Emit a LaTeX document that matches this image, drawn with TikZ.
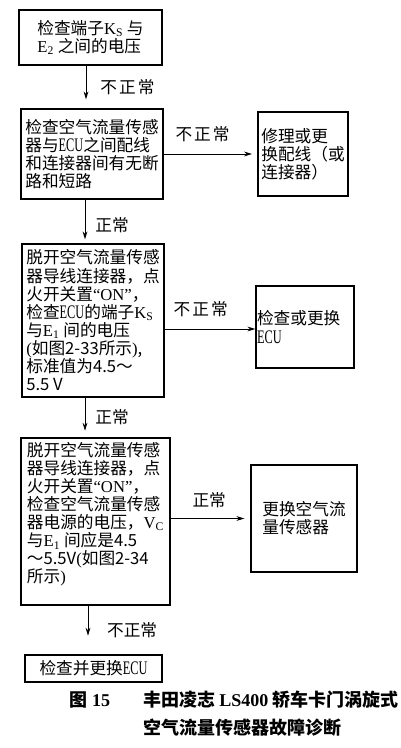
\documentclass[tikz,border=0pt]{standalone}
\usepackage{fontspec}
\setmainfont{Liberation Serif}
\newfontfamily\cjk{Noto Sans CJK SC}
\usetikzlibrary{arrows.meta}

\newcommand\ecu{{\rmfamily\scalebox{0.74}[1.15]{ECU}}}

\begin{document}
\begin{tikzpicture}[
            x=0.75pt, y=-0.75pt,
            box/.style={draw, line width=0.9pt, align=left, inner sep=1pt,
                        font=\cjk\fontsize{12.5pt}{13.6pt}\selectfont},
            arr/.style={-{Stealth[length=6pt, width=3.6pt]}, line width=0.7pt},
            lbl/.style={inner sep=0pt, font=\cjk\fontsize{12.5pt}{14pt}\selectfont},
            captxt/.style={inner sep=0pt, align=left, font=\cjk\bfseries\fontsize{13.5pt}{16pt}\selectfont}
        ]
        \useasboundingbox (0,0) rectangle (400,748);

        % Check steps (left column)
        \node[box, minimum width=107.25pt, minimum height=41.25pt] (chk1) at (90.5,37.5)
            {检查端子$\mathrm{K_S}$ 与\\$\mathrm{E_2}$ 之间的电压};
        \node[box, minimum width=106.5pt, minimum height=67.5pt] (chk2) at (92,154)
            {检查空气流量传感\\器与\ecu 之间配线\\和连接器间有无断\\路和短路};
        \node[box, minimum width=106.5pt, minimum height=114.75pt] (chk3) at (93,320.5)
            {脱开空气流量传感\\器导线连接器，点\\火开关置{\rmfamily “ON”}，\\检查\ecu 的端子$\mathrm{K_S}$\\与$\mathrm{E_1}$ 间的电压\\{\rmfamily (}如图2-33所示{\rmfamily )},\\标准值为4.5～\\5.5 V};
        \node[box, minimum width=111.75pt, minimum height=125.25pt] (chk4) at (95.5,521.5)
            {脱开空气流量传感\\器导线连接器，点\\火开关置{\rmfamily “ON”}，\\检查空气流量传感\\器电源的电压，$\mathrm{V_C}$\\与$\mathrm{E_1}$ 间应是4.5\\～5.5V{\rmfamily (}如图2-34\\所示{\rmfamily )}\\\mbox{}};
        \node[box, minimum width=102.75pt, minimum height=20.25pt] (chk5) at (93.5,668.5)
            {检查并更换\ecu};

        % Repair steps (right column)
        \node[box, minimum width=67.5pt, minimum height=63pt] (fix2) at (303,154)
            {修理或更\\换配线（或\\连接器）};
        \node[box, text width=72pt, inner xsep=0.75pt, minimum height=61.5pt] (fix3) at (305,327)
            {检查或更换\\\ecu};
        \node[box, minimum width=79.5pt, minimum height=80.25pt] (fix4) at (304,518.5)
            {更换空气流\\量传感器};

        % Downward arrows
        \draw[arr, shorten >=6.75pt] (chk1.south -| 86,0) -- (chk2.north -| 86,0)
            node[lbl, midway, right=10.5pt] {不\hspace{1.5pt}正\hspace{1.5pt}常};
        \draw[arr, shorten >=3pt] (chk2.south -| 85,0) -- (chk3.north -| 85,0)
            node[lbl, pos=0.58, right=7.5pt] {正常};
        \draw[arr, shorten >=5pt] (chk3.south -| 85,0) -- (chk4.north -| 85,0)
            node[lbl, midway, right=7.5pt] {正常};
        \draw[arr, shorten >=14pt] (chk4.south -| 88,0) -- (chk5.north -| 88,0)
            node[lbl, midway, right=14pt] {不正常};

        % Sideways arrows
        \draw[arr, shorten >=4pt] (chk2.east |- fix2.west) -- (fix2.west)
            node[lbl, midway, above=9pt, xshift=-6pt] {不\hspace{1.5pt}正\hspace{1.5pt}常};
        \draw[arr] (chk3.east |- 0,329) -- (fix3.west |- 0,329)
            node[lbl, midway, above=9pt, xshift=-7pt] {不\hspace{1.5pt}正\hspace{1.5pt}常};
        \draw[arr, shorten >=4.5pt] (chk4.east |- fix4.west) -- (fix4.west)
            node[lbl, midway, above=8pt, xshift=-1pt] {正常};

        % Caption
        \node[captxt] (fig) at (90,700) {图 {\rmfamily 15}};
        \node[captxt, anchor=west] (title1) at (143,700) {丰田凌志 {\rmfamily LS400} 轿车卡门涡旋式};
        \node[captxt, anchor=west] (title2) at (143,728) {空气流量传感器故障诊断};
    \end{tikzpicture}
\end{document}
